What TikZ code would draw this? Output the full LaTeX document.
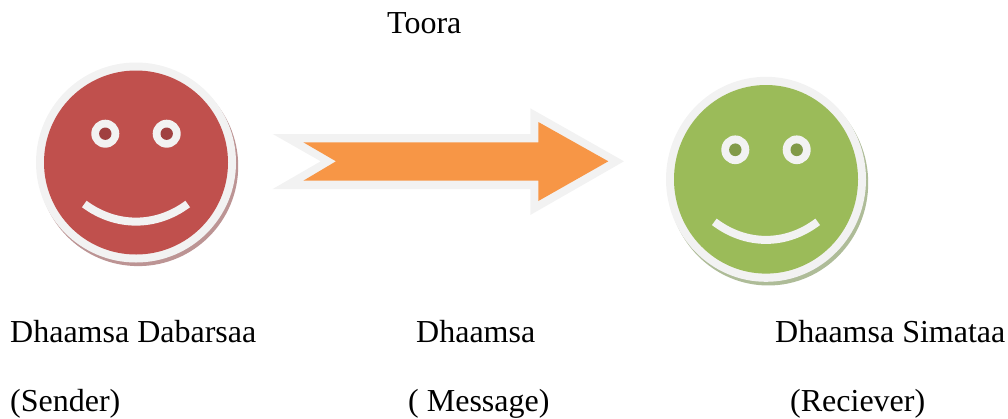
\documentclass[tikz,border=0pt]{standalone}
\usepackage{fontspec}
\setmainfont{Liberation Serif}
\definecolor{ring}{HTML}{F2F2F2}
\definecolor{redface}{HTML}{C0504D}
\definecolor{redeye}{HTML}{A04040}
\definecolor{redshadow}{HTML}{BC9494}
\definecolor{greenface}{HTML}{9BBB59}
\definecolor{greeneye}{HTML}{819A48}
\definecolor{greenshadow}{HTML}{AEBC98}
\definecolor{arroworange}{HTML}{F79646}
\tikzset{
  label text/.style={anchor=base west,inner sep=0pt,font=\fontsize{32}{36}\selectfont,text=black},
  mouth line/.style={draw=ring,line width=8pt},
  smiley/.pic={
    \fill[redshadow] (2.2,3.6) circle[radius=100];
    \fill[ring] (0,0) circle[radius=100];
    \fill[redface] (0,0) circle[radius=92];
    \foreach \ex in {-30.7,30.7}{
      \fill[ring] (\ex,-28.8) circle[radius=14];
      \fill[redeye] (\ex,-28.8) circle[radius=6.2];
    }
    \draw[mouth line] (-51.7,41.5) .. controls (-20,65) and (20,65) .. (51.7,41.5);
  },
  smileygreen/.pic={
    \fill[greenshadow] (2.2,3.6) circle[radius=100];
    \fill[ring] (0,0) circle[radius=100];
    \fill[greenface] (0,0) circle[radius=92];
    \foreach \ex in {-30.7,30.7}{
      \fill[ring] (\ex,-28.8) circle[radius=14];
      \fill[greeneye] (\ex,-28.8) circle[radius=6.2];
    }
    \draw[mouth line] (-51.7,41.5) .. controls (-20,65) and (20,65) .. (51.7,41.5);
  }
}
\begin{document}
\begin{tikzpicture}[x=1pt,y=-1pt]
\useasboundingbox (0,0) rectangle (1008,418);
\pic at (136,162.5) {smiley};
\pic[yscale=1.025] at (766,179.3) {smileygreen};
\fill[ring] (272.7,134) -- (320.7,161.3) -- (272.7,189) -- (530.3,189) -- (530.3,215) -- (624,161.3) -- (530.3,108.3) -- (530.3,134) -- cycle;
\fill[arroworange] (303.3,142.3) -- (336,161.3) -- (303.3,180.7) -- (538.3,180.7) -- (538.3,201) -- (608.3,161.3) -- (538.3,122) -- (538.3,142.3) -- cycle;
\node[label text] (toora) at (387,33.5) {Toora};
\node[label text] (sendername) at (10,342.5) {Dhaamsa Dabarsaa};
\node[label text] (messagename) at (416,342.5) {Dhaamsa};
\node[label text] (receivername) at (775,342.5) {Dhaamsa Simataa};
\node[label text] (sender) at (10,411.5) {(Sender)};
\node[label text] (message) at (408,411.5) {( Message)};
\node[label text] (receiver) at (790,411.5) {(Reciever)};
\end{tikzpicture}
\end{document}
